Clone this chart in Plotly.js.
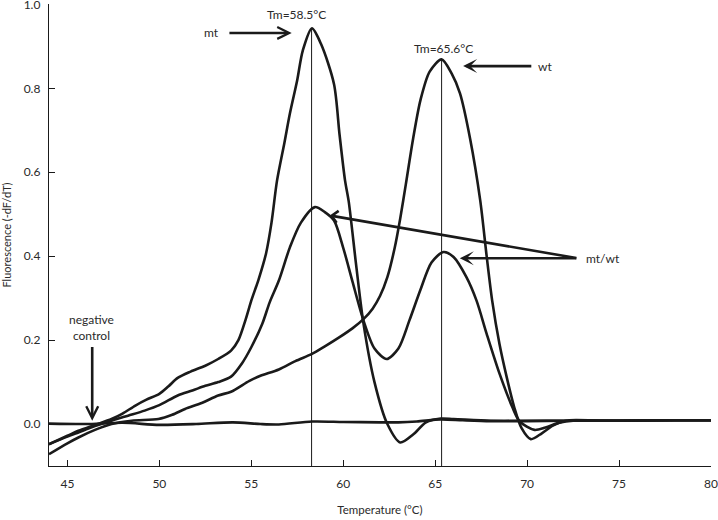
<!DOCTYPE html>
<html>
<head>
<meta charset="utf-8">
<script src="https://cdn.plot.ly/plotly-3.0.1.min.js"></script>
<style>html,body{margin:0;padding:0;background:#fff;}#chart{width:718px;height:520px;}</style>
</head>
<body>
<div id="chart"></div>
<script>
// ---- Data ----
const mtX = [44.0,45.0,45.6,46.5,47.4,48.0,48.7,49.3,50.0,50.5,51.0,51.7,52.5,53.2,53.9,54.3,54.7,55.0,55.4,55.8,56.1,56.4,56.8,57.1,57.5,57.8,58.3,58.8,59.5,59.8,60.1,60.3,60.7,61.1,61.7,62.4,63.1,63.8,64.5,65.3,66.0,68.0,70.0,72.0,75.0,78.0,80.0];
const mtY = [-0.048,-0.028,-0.016,-0.002,0.012,0.025,0.044,0.058,0.072,0.09,0.11,0.125,0.139,0.155,0.175,0.2,0.25,0.294,0.345,0.406,0.48,0.58,0.67,0.74,0.82,0.89,0.943,0.905,0.81,0.69,0.58,0.53,0.38,0.24,0.10,0.0,-0.044,-0.025,0.004,0.013,0.012,0.008,0.008,0.008,0.008,0.009,0.009];

const wtX = [44.0,45.0,45.6,46.5,47.4,48.5,49.95,50.7,51.4,52.3,53.2,53.9,54.9,55.5,56.5,57.4,58.3,59.0,59.8,60.5,61.1,61.6,62.0,62.4,62.8,63.1,63.4,63.8,64.2,64.7,65.35,65.9,66.35,66.9,67.45,67.8,68.1,68.5,68.9,69.3,69.7,70.2,70.8,71.4,72.1,74.0,77.0,80.0];
const wtY = [-0.072,-0.046,-0.032,-0.014,0.0,0.008,0.012,0.022,0.036,0.05,0.068,0.077,0.103,0.115,0.13,0.15,0.167,0.185,0.207,0.228,0.25,0.275,0.305,0.35,0.42,0.49,0.57,0.68,0.772,0.84,0.869,0.835,0.788,0.68,0.533,0.40,0.294,0.19,0.11,0.04,-0.01,-0.036,-0.022,-0.004,0.008,0.008,0.009,0.009];

const hetX = [44.0,45.0,45.6,46.5,47.4,48.3,49.2,50.0,51.0,51.8,52.5,53.2,53.9,54.5,55.0,55.6,56.0,56.5,57.1,57.7,58.46,59.0,59.5,60.0,60.5,61.1,61.7,62.36,63.0,63.6,64.2,64.8,65.45,66.0,66.7,67.25,67.8,68.5,69.2,69.6,70.4,71.0,71.8,72.5,75.0,78.0,80.0];
const hetY = [-0.048,-0.03,-0.02,-0.005,0.008,0.02,0.032,0.045,0.068,0.08,0.091,0.10,0.113,0.145,0.183,0.239,0.29,0.342,0.421,0.48,0.517,0.505,0.485,0.42,0.34,0.247,0.18,0.155,0.18,0.247,0.32,0.385,0.41,0.398,0.35,0.294,0.215,0.12,0.04,0.006,-0.014,-0.008,0.004,0.008,0.008,0.009,0.009];

const negX = [44,46,48,50,52,54,55.5,56.5,58.3,60,62,63,64,65.3,66.5,68,70,72,75,78,80];
const negY = [0.001,0.0,0.003,-0.002,0.0,0.004,0.0,-0.001,0.006,0.005,0.004,0.004,0.006,0.011,0.009,0.007,0.007,0.008,0.008,0.009,0.009];

const tmX = [58.28, 65.35];
const tmTop = [0.943, 0.869];
const tmLabels = ["Tm=58.5°C", "Tm=65.6°C"];
const xTicks = [45,50,55,60,65,70,75,80];
const yTicks = [0.0,0.2,0.4,0.6,0.8,1.0];
const xRange = [44, 80];
const yRange = [-0.1, 1.001];

const ink = '#1a1a1a';
const curve = (x, y) => ({x, y, type:'scatter', mode:'lines', line:{color:ink, width:2.6, shape:'spline', smoothing:0.8}, hoverinfo:'skip', showlegend:false});

const traces = [curve(negX,negY), curve(wtX,wtY), curve(hetX,hetY), curve(mtX,mtY)];
tmX.forEach((x,i) => traces.push({x:[x,x], y:[yRange[0], tmTop[i]], type:'scatter', mode:'lines', line:{color:ink, width:1}, hoverinfo:'skip', showlegend:false}));

const font = {family:'Lato, "Open Sans", sans-serif', size:12, color:'#2a2a2a'};
const arrow = (x, y, ax, ay, head) => ({x, y, ax, ay, xref:'x', yref:'y', axref:'x', ayref:'y', text:'', showarrow:true, arrowhead:head, arrowsize:0.9, arrowwidth:2.6, arrowcolor:ink, standoff:0, startstandoff:0});
const label = (x, y, text) => ({x, y, xref:'x', yref:'y', text, showarrow:false, font:{...font, size:12}, xanchor:'center', yanchor:'middle'});

const annotations = [
  label(57.48, 0.977, tmLabels[0]),
  label(65.47, 0.896, tmLabels[1]),
  label(52.81, 0.932, 'mt'),
  arrow(57.2, 0.932, 53.73, 0.932, 5),
  label(70.96, 0.853, 'wt'),
  arrow(66.52, 0.853, 70.31, 0.853, 3),
  label(74.1, 0.395, 'mt/wt'),
  arrow(66.34, 0.395, 72.76, 0.395, 3),
  arrow(59.27, 0.497, 72.76, 0.395, 4),
  label(46.3, 0.23, 'negative<br>control'),
  arrow(46.35, 0.008, 46.35, 0.187, 5)
];

const layout = {
  width:718, height:520,
  margin:{l:49, r:7, t:4, b:54},
  paper_bgcolor:'#fff', plot_bgcolor:'#fff',
  font,
  showlegend:false,
  xaxis:{range:xRange, tickvals:xTicks, ticktext:xTicks.map(String), ticks:'inside', ticklen:6, tickwidth:1, tickcolor:ink, showline:true, linecolor:ink, linewidth:1.2, showgrid:false, zeroline:false, ticklabelstandoff:6, ticklabeloverflow:'allow', title:{text:'Temperature (°C)', font:{...font, size:11.5}, standoff:16}},
  yaxis:{range:yRange, tickvals:yTicks, ticktext:yTicks.map(v=>v.toFixed(1)), ticks:'inside', ticklen:6, tickwidth:1, tickcolor:ink, showline:true, linecolor:ink, linewidth:1.2, showgrid:false, zeroline:false, ticklabelstandoff:5, ticklabeloverflow:'allow', title:{text:'Fluorescence (-dF/dT)', font:{...font, size:11}, standoff:10}},
  annotations
};

Plotly.newPlot('chart', traces, layout, {staticPlot:true, displayModeBar:false});
</script>
</body>
</html>
